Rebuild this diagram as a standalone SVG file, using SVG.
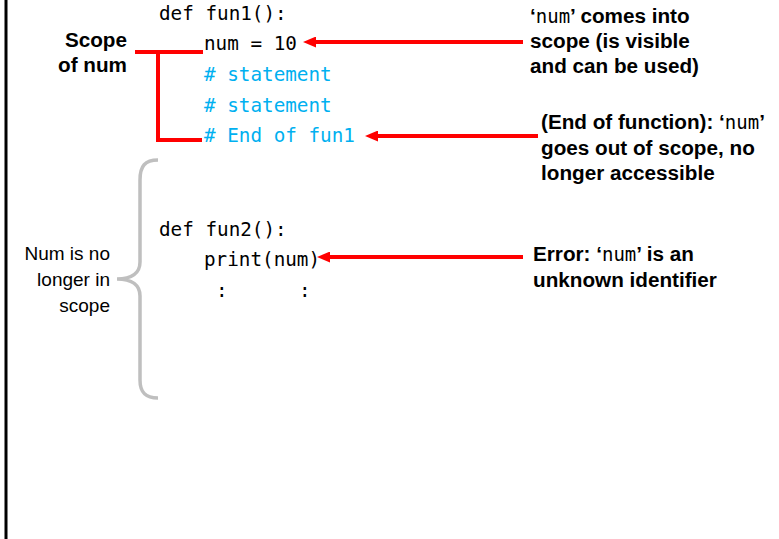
<svg xmlns="http://www.w3.org/2000/svg" width="779" height="539" viewBox="0 0 779 539">
<style>
.code{font-family:"DejaVu Sans Mono","Liberation Mono",monospace;font-size:19.3px;fill:#000}
.cmt{fill:#00B0F0}
.lbl{font-family:"Liberation Sans",Arial,sans-serif;font-size:20.7px;font-weight:bold;fill:#000}
.reg{font-family:"Liberation Sans",Arial,sans-serif;font-size:19px;fill:#000}
.mono{font-family:"DejaVu Sans Mono","Liberation Mono",monospace;font-weight:normal;font-size:19px}
.red{stroke:#FF0000;stroke-width:4;fill:none}
</style>
<defs>
<marker id="ah" markerWidth="14" markerHeight="11" refX="3" refY="5.5" orient="auto" markerUnits="userSpaceOnUse">
<path d="M0,0 L13,5.5 L0,11 z" fill="#FF0000"/>
</marker>
</defs>
<rect width="779" height="539" fill="#fff"/>
<line x1="6" y1="0" x2="6" y2="539" stroke="#000" stroke-width="3"/>

<g id="code-fun1">
<text class="code" x="159" y="20">def fun1():</text>
<text class="code" x="204" y="50">num = 10</text>
<text class="code cmt" x="204" y="81">#&#160;statement</text>
<text class="code cmt" x="204" y="112">#&#160;statement</text>
<text class="code cmt" x="204" y="142">#&#160;End of fun1</text>
</g>

<g id="code-fun2">
<text class="code" x="159" y="236">def fun2():</text>
<text class="code" x="204" y="266">print(num)</text>
<text class="code" x="216" y="297">:</text>
<text class="code" x="299" y="297">:</text>
</g>

<g id="scope-label">
<text class="lbl" x="127" y="47" text-anchor="end">Scope</text>
<text class="lbl" x="127" y="72" text-anchor="end">of num</text>
</g>

<g id="scope-bracket">
<path class="red" d="M135,52 H203 M158,52 V140 H202"/>
</g>

<g id="no-scope-label">
<text class="reg" x="110" y="260" text-anchor="end">Num is no</text>
<text class="reg" x="110" y="286" text-anchor="end">longer in</text>
<text class="reg" x="110" y="312" text-anchor="end">scope</text>
</g>

<g id="brace">
<path d="M158,160 C145,160 140,166 140,180 L140,262 C140,273 132,279 117,279 C132,279 140,285 140,296 L140,380 C140,392 145,398 158,398" fill="none" stroke="#BFBFBF" stroke-width="3.5"/>
</g>

<g id="note-comes-into-scope">
<text class="lbl" x="530" y="23">‘<tspan class="mono">num</tspan>’ comes into</text>
<text class="lbl" x="530" y="48">scope (is visible</text>
<text class="lbl" x="530" y="73">and can be used)</text>
</g>

<g id="note-out-of-scope">
<text class="lbl" x="541" y="129">(End of function): ‘<tspan class="mono">num</tspan>’</text>
<text class="lbl" x="541" y="155">goes out of scope, no</text>
<text class="lbl" x="541" y="180">longer accessible</text>
</g>

<g id="note-error">
<text class="lbl" x="533" y="261">Error: ‘<tspan class="mono">num</tspan>’ is an</text>
<text class="lbl" x="533" y="287">unknown identifier</text>
</g>

<g id="connectors">
<path class="red" d="M523,42 L313,42" marker-end="url(#ah)"/>
<path class="red" d="M538,136 L375,136" marker-end="url(#ah)"/>
<path class="red" d="M523,257 L327,257" marker-end="url(#ah)"/>
</g>
</svg>
